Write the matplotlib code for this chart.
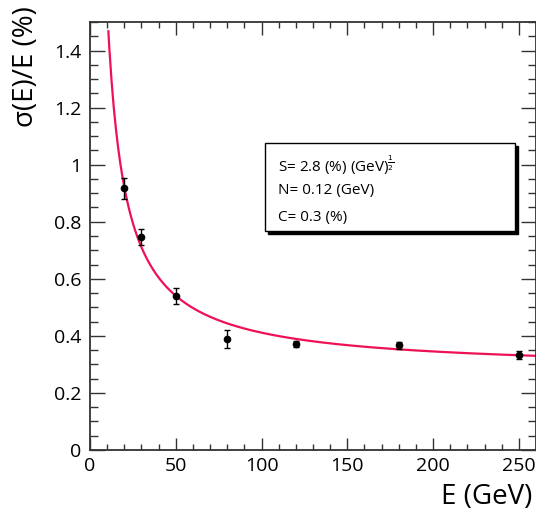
import numpy as np
import matplotlib
matplotlib.use("Agg")
import matplotlib.pyplot as plt
from matplotlib.patches import Rectangle
from matplotlib.ticker import MultipleLocator

# measured points (GeV, %)
energy = [20, 30, 50, 80, 120, 180, 250]
resolution = [0.917, 0.747, 0.540, 0.388, 0.371, 0.367, 0.334]
res_err = [0.037, 0.029, 0.029, 0.031, 0.010, 0.012, 0.014]

# fit parameters: sigma/E = S/sqrt(E) (+) N/E (+) C
S_fit = 2.76    # % GeV^1/2
N_fit = 0.125   # GeV
C_fit = 0.278   # %
fit_range = [10.7, 260]
legend_lines = ["S= 2.8 (%) (GeV)$^{\\frac{1}{2}}$", "N= 0.12 (GeV)", "C= 0.3 (%)"]

plt.rcParams['font.family'] = ['Open Sans', 'DejaVu Sans']

fig = plt.figure(figsize=(5.36, 5.15), dpi=100)
ax = fig.add_axes([90/536, 1 - 450/515, 446/536, 428/515])

E = np.linspace(fit_range[0], fit_range[1], 400)
fit = np.sqrt((S_fit / np.sqrt(E))**2 + (N_fit * 100 / E)**2 + C_fit**2)
ax.plot(E, fit, color='#ee1155', lw=1.6, zorder=2)

ax.errorbar(energy, resolution, yerr=res_err, fmt='o', color='black',
            ms=4.5, elinewidth=1.0, capsize=2.5, capthick=1.0, zorder=3)

ax.set_xlim(0, 260)
ax.set_ylim(0, 1.5)
ax.xaxis.set_minor_locator(MultipleLocator(10))
ax.yaxis.set_minor_locator(MultipleLocator(0.05))
ax.set_xticks([0, 50, 100, 150, 200, 250])
ax.set_xticklabels(['0', '50', '100', '150', '200', '250'])
ax.set_yticks([0, 0.2, 0.4, 0.6, 0.8, 1.0, 1.2, 1.4])
ax.set_yticklabels(['0', '0.2', '0.4', '0.6', '0.8', '1', '1.2', '1.4'])

ax.tick_params(which='both', direction='in', top=True, right=True,
               color='#333333', labelsize=14)
ax.tick_params(axis='y', which='major', length=11, width=1.0, pad=6)
ax.tick_params(axis='y', which='minor', length=5.5, width=1.0)
ax.tick_params(axis='x', which='major', length=9, width=1.0, pad=5)
ax.tick_params(axis='x', which='minor', length=4.5, width=1.0)
for sp in ax.spines.values():
    sp.set_color('#333333')
    sp.set_linewidth(1.3)

fig.text(532/536, 1 - 497/515, 'E (GeV)', ha='right', va='center', fontsize=20)
fig.text(26/536, 1 - 6/515, 'σ(E)/E (%)', ha='center', va='top', rotation=90,
         fontsize=20)

# stats box with shadow (ROOT-style)
x0, y0, w, h = 265, 143, 250, 88
box_sh = Rectangle(((x0 + 3) / 536, 1 - (y0 + h + 3) / 515), w / 536, h / 515,
                   transform=fig.transFigure, facecolor='black', edgecolor='black',
                   zorder=4)
box = Rectangle((x0 / 536, 1 - (y0 + h) / 515), w / 536, h / 515,
                transform=fig.transFigure, facecolor='white', edgecolor='black',
                lw=1.0, zorder=5)
fig.patches.extend([box_sh, box])
for i, txt in enumerate(legend_lines):
    fig.text(278 / 536, 1 - (165 + 26 * i) / 515, txt, ha='left', va='center',
             fontsize=11, zorder=6)

fig.savefig('out.png', dpi=100)
